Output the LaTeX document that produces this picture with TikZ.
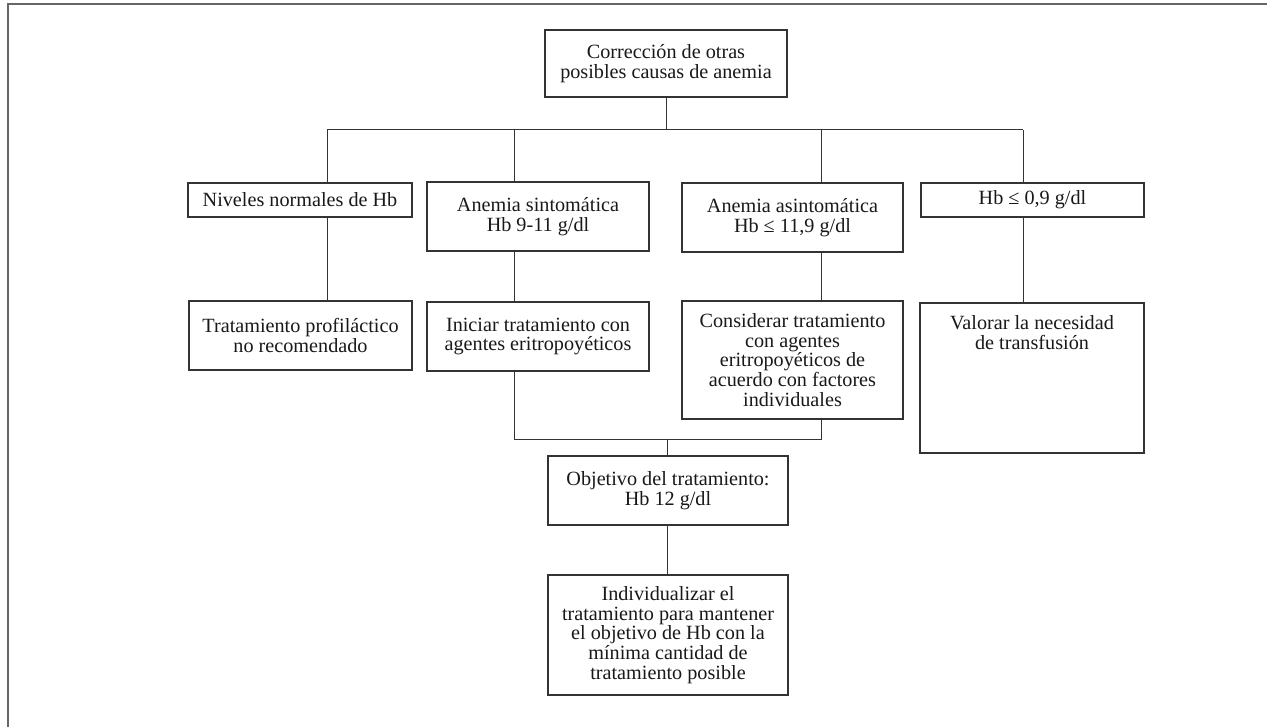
\documentclass[tikz,border=0pt]{standalone}
\usepackage{fontspec}
\setmainfont{Liberation Serif}
\begin{document}
\begin{tikzpicture}[x=1pt,y=-1pt,
  box/.style={draw=black!80, line width=1.1pt, align=center, inner sep=0pt,
    font=\fontsize{20.2}{19.8}\selectfont, text=black!90},
  plain/.style={align=center, inner sep=0pt, font=\fontsize{20.2}{19.8}\selectfont, text=black!90},
  conn/.style={draw=black!80, line width=1pt}]
\useasboundingbox (0,0) rectangle (1267,727);
\fill[white] (0,0) rectangle (1267,727);
\draw[black!60, line width=2pt] (7.5,727) -- (7.5,4) -- (1267,4);

% nodes
\node[box, minimum width=242pt, minimum height=67pt] (top) at (666,63.5) {Corrección de otras\\posibles causas de anemia};
\node[box, minimum width=224pt, minimum height=34pt] (n1) at (300,200) {Niveles normales de Hb};
\node[box, minimum width=222pt, minimum height=69pt] (n2) at (538,216.5) {Anemia sintomática\\Hb 9-11 g/dl};
\node[box, minimum width=221pt, minimum height=69pt] (n3) at (792.5,217.5) {Anemia asintomática\\Hb ≤ 11,9 g/dl};
\node[box, minimum width=223pt, minimum height=34pt] (n4) at (1032.5,200) {Hb ≤ 0,9 g/dl};
\node[box, minimum width=223pt, minimum height=69pt] (m1) at (300.5,335.5) {Tratamiento profiláctico\\no recomendado};
\node[box, minimum width=222pt, minimum height=69pt] (m2) at (538,336.5) {Iniciar tratamiento con\\agentes eritropoyéticos};
\node[box, minimum width=221pt, minimum height=118pt] (m3) at (792.5,360) {Considerar tratamiento\\con agentes\\eritropoyéticos de\\acuerdo con factores\\individuales};
\node[box, minimum width=224pt, minimum height=150pt] (m4) at (1032,378) {};
\node[plain, anchor=north] (m4text) at (1032,315.5) {Valorar la necesidad\\de transfusión};
\node[box, minimum width=240pt, minimum height=69pt] (obj) at (668,490.5) {Objetivo del tratamiento:\\Hb 12 g/dl};
\node[box, minimum width=240pt, minimum height=120pt] (ind) at (668,635) {Individualizar el\\tratamiento para mantener\\el objetivo de Hb con la\\mínima cantidad de\\tratamiento posible};

% connectors
\coordinate (bus) at (666,130);
\coordinate (b1) at (327,130);
\coordinate (b2) at (514,130);
\coordinate (b3) at (821,130);
\coordinate (b4) at (1023,130);
\coordinate (j2) at (514,439);
\coordinate (j3) at (821,439);
\coordinate (jm) at (667,439);

\draw[conn] (top.south) -- (bus);
\draw[conn] (b1) -- (b4);
\draw[conn] (b1) -- (b1 |- n1.north);
\draw[conn] (b2) -- (b2 |- n2.north);
\draw[conn] (b3) -- (b3 |- n3.north);
\draw[conn] (b4) -- (b4 |- n4.north);
\draw[conn] (b1 |- n1.south) -- (b1 |- m1.north);
\draw[conn] (b2 |- n2.south) -- (b2 |- m2.north);
\draw[conn] (b3 |- n3.south) -- (b3 |- m3.north);
\draw[conn] (b4 |- n4.south) -- (b4 |- m4.north);
\draw[conn] (b2 |- m2.south) -- (j2) -- (j3) -- (b3 |- m3.south);
\draw[conn] (jm) -- (jm |- obj.north);
\draw[conn] (jm |- obj.south) -- (jm |- ind.north);
\end{tikzpicture}
\end{document}
